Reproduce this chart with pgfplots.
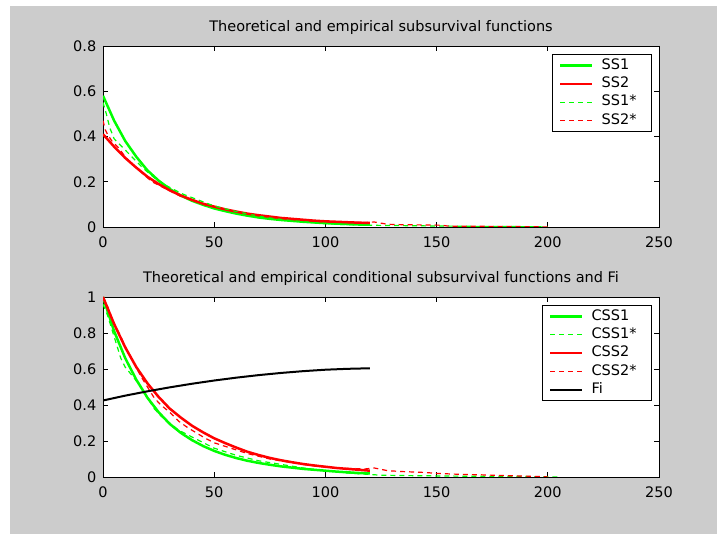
\documentclass[border=0pt]{standalone}
\usepackage{fontspec}
\setmainfont{DejaVu Sans}
\usepackage{pgfplots}
\pgfplotsset{compat=1.18}
\definecolor{mgray}{RGB}{204,204,204}
\definecolor{mgreen}{RGB}{0,255,0}
\definecolor{mred}{RGB}{255,0,0}
\newcommand{\mfont}{\fontsize{14.5}{17}\selectfont}
\pgfplotsset{
  mstyle/.style={
    scale only axis, width=556pt, xmin=0, xmax=250,
    xtick={0,50,100,150,200,250},
    axis background/.style={fill=white},
    axis line style={line width=0.8pt},
    every tick/.style={black, line width=0.8pt},
    major tick length=5pt,
    tick align=inside,
    /pgf/number format/assume math mode=true,
    tick label style={font=\mfont},
    xticklabel style={inner sep=0pt, text height=10.4pt, text depth=0pt, yshift=-9.5pt},
    yticklabel style={inner sep=0pt, xshift=-6.5pt},
    title style={font=\mfont, inner sep=0pt, text depth=0pt, yshift=8pt},
    legend style={draw=black, line width=0.8pt, fill=white, font=\mfont,
      at={(1,1)}, anchor=north east, xshift=-7pt, yshift=-8pt,
      cells={anchor=west},
      nodes={text height=10.5pt, text depth=3pt, inner ysep=2.4pt, inner xsep=8pt},
      inner xsep=7pt, inner ysep=2pt},
    legend image code/.code={\draw[#1] plot coordinates {(0pt,0pt) (16pt,0pt) (32pt,0pt)};},
  },
  thick line/.style={line width=2.5pt, sharp plot},
  dash line/.style={line width=1.2pt, dash pattern=on 5pt off 4pt, sharp plot},
}
\begin{document}
\begin{tikzpicture}
\useasboundingbox (0,0) rectangle (717pt,534pt);
\fill[white] (0,0) rectangle (717pt,534pt);
\fill[mgray] (10pt,0) rectangle (717pt,528pt);

\begin{axis}[mstyle, at={(103pt,307pt)}, anchor=south west, height=181pt,
  ymin=0, ymax=0.8, ytick={0,0.2,0.4,0.6,0.8},
  title={Theoretical and empirical subsurvival functions}]
\addplot[mgreen, thick line] coordinates {(0,0.58)(5,0.47)(10,0.38)(15,0.31)(20,0.25)(25,0.205)(30,0.168)(35,0.139)(40,0.116)(45,0.098)(50,0.082)(55,0.07)(60,0.059)(65,0.05)(70,0.042)(75,0.036)(80,0.031)(85,0.027)(90,0.023)(95,0.02)(100,0.017)(105,0.015)(110,0.013)(115,0.011)(120,0.01)};
\addlegendentry{SS1}
\addplot[mred, thick line] coordinates {(0,0.41)(5,0.355)(10,0.305)(15,0.262)(20,0.222)(25,0.19)(30,0.162)(35,0.139)(40,0.12)(45,0.103)(50,0.09)(55,0.078)(60,0.068)(65,0.059)(70,0.052)(75,0.046)(80,0.04)(85,0.036)(90,0.032)(95,0.028)(100,0.025)(105,0.023)(110,0.021)(115,0.019)(120,0.018)};
\addlegendentry{SS2}
\addplot[mgreen, dash line] coordinates {(0,0.55)(1.5,0.5)(3,0.44)(5,0.39)(7,0.37)(9,0.35)(12,0.32)(15,0.29)(18,0.26)(21,0.235)(24,0.21)(27,0.19)(30,0.175)(33,0.16)(36,0.145)(40,0.13)(44,0.115)(48,0.1)(52,0.088)(56,0.078)(60,0.068)(65,0.058)(70,0.048)(75,0.04)(80,0.034)(85,0.028)(90,0.023)(95,0.019)(100,0.015)(105,0.012)(110,0.01)(115,0.009)(120,0.008)(125,0.007)(135,0.006)(145,0.005)(155,0.004)(165,0.003)(175,0.002)(185,0.002)(195,0.001)(200,0)};
\addlegendentry{SS1*}
\addplot[mred, dash line] coordinates {(0,0.47)(1,0.43)(2,0.41)(4,0.38)(7,0.35)(10,0.31)(14,0.27)(18,0.235)(22,0.2)(26,0.18)(30,0.16)(35,0.135)(40,0.118)(45,0.1)(50,0.088)(55,0.077)(60,0.066)(65,0.058)(70,0.05)(75,0.044)(80,0.038)(85,0.033)(90,0.029)(95,0.025)(100,0.022)(110,0.02)(118,0.02)(122,0.022)(128,0.012)(135,0.01)(145,0.009)(152,0.008)(156,0.003)(170,0.003)(185,0.002)(195,0.001)(200,0)};
\addlegendentry{SS2*}
\end{axis}

\begin{axis}[mstyle, at={(103pt,57pt)}, anchor=south west, height=180pt,
  ymin=0, ymax=1, ytick={0,0.2,0.4,0.6,0.8,1},
  title={Theoretical and empirical conditional subsurvival functions and Fi}]
\addplot[mgreen, thick line] coordinates {(0,1)(5,0.81)(10,0.66)(15,0.54)(20,0.44)(25,0.36)(30,0.295)(35,0.245)(40,0.205)(45,0.172)(50,0.145)(55,0.123)(60,0.105)(65,0.09)(70,0.078)(75,0.068)(80,0.059)(85,0.052)(90,0.045)(95,0.04)(100,0.035)(105,0.03)(110,0.026)(115,0.022)(120,0.02)};
\addlegendentry{CSS1}
\addplot[mgreen, dash line] coordinates {(0,0.96)(2,0.9)(4,0.82)(6,0.74)(8,0.66)(10,0.61)(12,0.58)(14,0.55)(17,0.5)(20,0.44)(23,0.38)(26,0.34)(30,0.3)(34,0.26)(38,0.235)(42,0.21)(46,0.185)(50,0.16)(55,0.14)(60,0.12)(65,0.105)(70,0.09)(75,0.08)(80,0.07)(85,0.06)(90,0.05)(95,0.042)(100,0.035)(105,0.028)(110,0.022)(115,0.018)(120,0.014)(125,0.01)(135,0.008)(150,0.006)(165,0.004)(180,0.003)(195,0.002)(205,0)};
\addlegendentry{CSS1*}
\addplot[mred, thick line] coordinates {(0,1)(5,0.85)(10,0.72)(15,0.61)(20,0.52)(25,0.445)(30,0.38)(35,0.33)(40,0.285)(45,0.248)(50,0.215)(55,0.188)(60,0.163)(65,0.14)(70,0.122)(75,0.106)(80,0.093)(85,0.082)(90,0.072)(95,0.064)(100,0.057)(105,0.05)(110,0.045)(115,0.04)(120,0.035)};
\addlegendentry{CSS2}
\addplot[mred, dash line] coordinates {(0,1)(2,0.95)(4,0.88)(6,0.83)(8,0.78)(11,0.7)(14,0.63)(17,0.56)(20,0.5)(23,0.44)(26,0.4)(30,0.36)(34,0.31)(38,0.275)(42,0.245)(46,0.215)(50,0.19)(55,0.17)(60,0.15)(65,0.13)(70,0.115)(75,0.1)(80,0.09)(85,0.08)(90,0.07)(95,0.062)(100,0.055)(110,0.048)(118,0.045)(122,0.05)(128,0.035)(135,0.03)(145,0.025)(150,0.02)(160,0.015)(170,0.012)(180,0.008)(190,0.005)(198,0.002)(200,0)};
\addlegendentry{CSS2*}
\addplot[black, line width=2pt, sharp plot] coordinates {(0,0.425)(10,0.452)(20,0.476)(30,0.498)(40,0.518)(50,0.536)(60,0.552)(70,0.566)(80,0.578)(90,0.588)(100,0.596)(110,0.601)(120,0.604)};
\addlegendentry{Fi}
\end{axis}
\end{tikzpicture}
\end{document}
